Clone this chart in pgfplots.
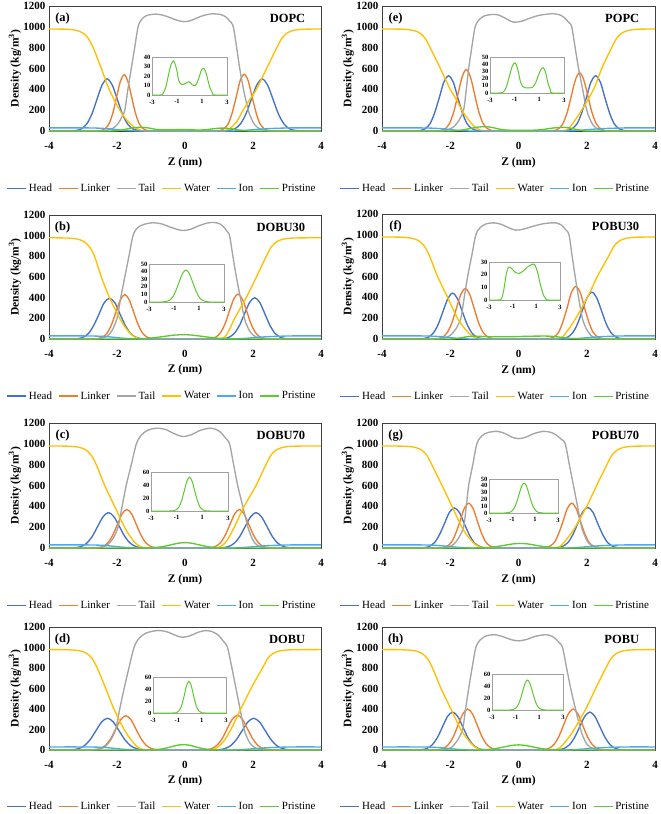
\documentclass[border=0pt]{standalone}
\usepackage{pgfplots}
\pgfplotsset{compat=1.18}
\usepackage{pgfplotstable}
\usepackage{fontspec}
\setmainfont{Liberation Serif}
\definecolor{chead}{HTML}{4472C4}
\definecolor{clink}{HTML}{ED7D31}
\definecolor{ctail}{HTML}{A5A5A5}
\definecolor{cwater}{HTML}{FFC000}
\definecolor{cion}{HTML}{4FA8EE}
\definecolor{cprist}{HTML}{5CCB2E}
\definecolor{cframe}{HTML}{404040}
\definecolor{cinframe}{HTML}{A0A0A0}

\pgfplotstableread{
z v
-4 30
-3 30
-2.6 28
-2.3 23
-2.05 15
-1.8 7
-1.5 2
-1.2 0
1.2 0
1.5 2
1.8 7
2.1 15
2.4 22
2.8 27
3.2 30
4 30
}\iontab

\pgfplotstableread{
z v
-4 0
-2.4 0
-2.15 1
-1.9 8
-1.7 20
-1.5 31
-1.28 36
-1.05 28
-0.85 15
-0.62 11
-0.35 12
-0.05 14
0.2 11
0.47 10
0.7 16
0.95 26
1.15 28
1.35 22
1.6 9
1.85 2
2.05 0
4 0
}\prA

\pgfplotstableread{
z v
-4 0
-2.3 0
-1.95 1
-1.7 7
-1.45 22
-1.2 37
-0.97 42
-0.75 33
-0.55 17
-0.35 9
-0.1 7
0.2 7
0.45 8
0.7 14
0.95 26
1.15 33
1.32 35
1.5 29
1.7 14
1.9 4
2.1 0
4 0
}\prE

\pgfplotstableread{
z v
-4 0
-2.0 0
-1.8 0.3
-1.55 1
-1.3 3
-1.05 8
-0.8 17
-0.55 28
-0.3 38
-0.05 42
0.2 38
0.45 28
0.7 17
0.95 8
1.2 3
1.45 1
1.7 0.3
1.9 0
4 0
}\prB

\pgfplotstableread{
z v
-4 0
-2.3 0
-1.95 1
-1.75 8
-1.55 20
-1.35 26
-1.1 25
-0.8 22
-0.45 21
-0.1 23
0.25 26
0.6 28
0.85 28
1.1 22
1.35 12
1.6 4
1.85 0.5
2.1 0
4 0
}\prF

\pgfplotstableread{
z v
-4 0
-1.6 0
-1.2 0.6
-1.0 2.3
-0.8 7
-0.6 17
-0.4 31.5
-0.2 46
0 52
0.2 46
0.4 31.5
0.6 17
0.8 7
1.0 2.3
1.2 0.6
1.6 0
4 0
}\prC

\pgfplotstableread{
z v
-4 0
-1.7 0
-1.45 0.4
-1.15 1.2
-0.95 3.7
-0.75 9.1
-0.55 18
-0.35 29.6
-0.15 40
0.05 44
0.25 40
0.45 29.6
0.65 18
0.85 9.1
1.05 3.7
1.25 1.2
1.55 0.2
1.8 0
4 0
}\prG

\pgfplotstableread{
z v
-4 0
-1.4 0
-1.05 0.9
-0.85 3.9
-0.65 12
-0.45 27.6
-0.25 45
-0.05 53
0.15 45
0.35 27.6
0.55 12
0.75 3.9
0.95 0.9
1.3 0
4 0
}\prD

\pgfplotstableread{
z v
-4 0
-1.7 0
-1.5 0.1
-1.2 0.8
-1.0 2.9
-0.8 8.1
-0.6 18
-0.4 31.8
-0.2 44.6
0 50
0.2 44.6
0.4 31.8
0.6 18
0.8 8.1
1.0 2.9
1.2 0.8
1.5 0.1
1.7 0
4 0
}\prH

\pgfplotsset{
  pH/.style={forget plot, smooth, line width=1.35pt, draw=chead},
  pL/.style={forget plot, smooth, line width=1.35pt, draw=clink},
  pT/.style={forget plot, smooth, line width=1.35pt, draw=ctail},
  pW/.style={forget plot, smooth, line width=1.35pt, draw=cwater},
  pI/.style={forget plot, smooth, line width=1.35pt, draw=cion},
  pP/.style={forget plot, smooth, line width=1.35pt, draw=cprist},
  mainax/.style={
    scale only axis, anchor=south west,
    xmin=-4, xmax=4, ymin=0, ymax=1200,
    xtick={-4,-2,0,2,4}, ytick={0,200,400,600,800,1000,1200},
    major tick length=0pt,
    axis line style={draw=cframe, line width=0.8pt},
    tick label style={font=\bfseries\fontsize{11}{11}\selectfont},
    /pgf/number format/assume math mode=true,
    /pgf/number format/1000 sep={},
    xticklabel style={yshift=-8pt},
    xlabel={Z (nm)}, ylabel={Density (kg/m\textsuperscript{3})},
    label style={font=\bfseries\fontsize{11.5}{12}\selectfont},
    xlabel style={at={(axis description cs:0.5,-0.25)}, anchor=center},
    ylabel style={at={(axis description cs:-0.125,0.5)}, anchor=center},
    legend style={at={(0.415,-0.46)}, anchor=center, draw=white, fill=white,
      legend columns=6, font=\fontsize{11}{11}\selectfont,
      /tikz/every even column/.append style={column sep=4pt}},
  },
  insetax/.style={
    scale only axis, anchor=south west,
    xmin=-3, xmax=3, ymin=0, xtick={-3,-1,1,3},
    major tick length=0pt,
    axis line style={draw=cinframe, line width=0.6pt},
    axis background/.style={fill=white},
    tick label style={font=\bfseries\fontsize{6.5}{6.5}\selectfont, inner sep=1.5pt},
    /pgf/number format/assume math mode=true,
    xticklabel style={yshift=-3pt},
  },
}
\newcommand{\plab}[2]{%
  \node[font=\bfseries\fontsize{12.5}{13}\selectfont] at (rel axis cs:0.05,0.9) {#1};
  \node[font=\bfseries\fontsize{12.5}{13}\selectfont, anchor=east] at (rel axis cs:0.955,0.9) {#2};}
\newcommand{\lgd}{%
  \addlegendimage{legend image code/.code={\draw[line width=1.6pt, draw=chead] (0pt,0pt) -- (19pt,0pt);}}\addlegendentry{Head}
  \addlegendimage{legend image code/.code={\draw[line width=1.6pt, draw=clink] (0pt,0pt) -- (19pt,0pt);}}\addlegendentry{Linker}
  \addlegendimage{legend image code/.code={\draw[line width=1.6pt, draw=ctail] (0pt,0pt) -- (19pt,0pt);}}\addlegendentry{Tail}
  \addlegendimage{legend image code/.code={\draw[line width=1.6pt, draw=cwater] (0pt,0pt) -- (19pt,0pt);}}\addlegendentry{Water}
  \addlegendimage{legend image code/.code={\draw[line width=1.6pt, draw=cion] (0pt,0pt) -- (19pt,0pt);}}\addlegendentry{Ion}
  \addlegendimage{legend image code/.code={\draw[line width=1.6pt, draw=cprist] (0pt,0pt) -- (19pt,0pt);}}\addlegendentry{Pristine}}

\begin{document}
\begin{tikzpicture}
\useasboundingbox (0pt,0pt) rectangle (661pt,-814pt);

% ---------- (a) DOPC ----------
\begin{axis}[mainax, at={(49pt,-131pt)}, width=272pt, height=125pt]
\addplot[pH] coordinates {(-4,0)(-3.5,0)(-3.19,6)(-3.04,22)(-2.89,68)(-2.74,162)(-2.59,303)(-2.44,441)(-2.29,500)(-2.14,441)(-1.99,303)(-1.84,162)(-1.69,68)(-1.54,22)(-1.39,6)(-1.1,0)(0,0)(1.0,0)(1.31,6)(1.47,22)(1.63,68)(1.79,162)(1.95,303)(2.11,441)(2.27,500)(2.43,441)(2.59,303)(2.75,162)(2.91,68)(3.07,22)(3.23,6)(3.55,0)(4,0)};
\addplot[pL] coordinates {(-4,0)(-2.75,0)(-2.45,6)(-2.34,24)(-2.23,73)(-2.12,175)(-2.01,328)(-1.90,477)(-1.79,540)(-1.68,477)(-1.57,328)(-1.46,175)(-1.35,73)(-1.24,24)(-1.13,6)(-0.85,0)(0,0)(0.75,0)(1.05,6)(1.16,24)(1.28,74)(1.39,177)(1.51,331)(1.62,481)(1.74,545)(1.86,481)(1.97,331)(2.09,177)(2.20,74)(2.32,24)(2.43,6)(2.75,0)(4,0)};
\addplot[pT] coordinates {(-4,0)(-2.8,0)(-2.5,3)(-2.3,8)(-2.1,30)(-1.95,80)(-1.85,140)(-1.77,200)(-1.68,400)(-1.58,600)(-1.48,800)(-1.38,1000)(-1.28,1070)(-1.15,1105)(-1.0,1118)(-0.85,1122)(-0.65,1112)(-0.45,1090)(-0.25,1065)(-0.05,1050)(0.15,1058)(0.35,1085)(0.55,1110)(0.8,1125)(1.05,1118)(1.2,1095)(1.32,1055)(1.42,1000)(1.52,800)(1.61,600)(1.72,400)(1.86,200)(1.95,120)(2.05,60)(2.2,20)(2.4,5)(2.6,0)(4,0)};
\addplot[pW] coordinates {(-4,980)(-3.8,979)(-3.5,977)(-3.3,972)(-3.15,962)(-3.0,940)(-2.85,892)(-2.7,800)(-2.46,600)(-2.23,400)(-1.92,200)(-1.7,100)(-1.5,40)(-1.35,12)(-1.2,2)(-1.0,0)(1.0,0)(1.15,3)(1.3,20)(1.5,80)(1.71,200)(1.9,300)(2.1,400)(2.4,600)(2.7,800)(2.85,892)(3.0,940)(3.15,962)(3.3,972)(3.5,977)(3.8,979)(4,980)};
\addplot[pI] table[x=z,y=v] {\iontab};
\addplot[pP] table[x=z,y=v] {\prA};
\lgd
\plab{(a)}{DOPC}
\end{axis}
\begin{axis}[insetax, at={(152pt,-95pt)}, width=75pt, height=38pt, ymax=40, ytick={0,10,20,30,40}]
\addplot[pP, line width=1pt] table[x=z,y=v] {\prA};
\end{axis}

% ---------- (e) POPC ----------
\begin{axis}[mainax, at={(382pt,-131pt)}, width=273pt, height=125pt]
\addplot[pH] coordinates {(-4,0)(-3.15,0)(-2.86,6)(-2.73,23)(-2.59,72)(-2.46,172)(-2.32,321)(-2.19,468)(-2.05,530)(-1.91,468)(-1.78,321)(-1.64,172)(-1.51,72)(-1.37,23)(-1.24,6)(-0.95,0)(0,0)(1.15,0)(1.45,6)(1.58,23)(1.72,72)(1.85,172)(1.99,321)(2.12,468)(2.26,530)(2.40,468)(2.53,321)(2.67,172)(2.80,72)(2.94,23)(3.07,6)(3.35,0)(4,0)};
\addplot[pL] coordinates {(-4,0)(-2.55,0)(-2.25,7)(-2.13,26)(-2.01,80)(-1.89,192)(-1.77,358)(-1.65,521)(-1.53,590)(-1.41,521)(-1.29,358)(-1.17,192)(-1.05,80)(-0.93,26)(-0.81,7)(-0.5,0)(0.75,0)(1.07,6)(1.19,25)(1.31,76)(1.43,182)(1.55,340)(1.67,494)(1.79,560)(1.91,494)(2.03,340)(2.15,182)(2.27,76)(2.39,25)(2.51,6)(2.8,0)(4,0)};
\addplot[pT] coordinates {(-4,0)(-2.4,0)(-2.1,10)(-1.9,40)(-1.75,100)(-1.61,200)(-1.53,400)(-1.46,600)(-1.37,800)(-1.27,1000)(-1.15,1070)(-1.0,1105)(-0.8,1118)(-0.6,1115)(-0.4,1085)(-0.15,1045)(0.1,1055)(0.35,1085)(0.6,1110)(0.85,1122)(1.05,1125)(1.25,1110)(1.4,1070)(1.48,1040)(1.56,1000)(1.66,800)(1.76,600)(1.88,400)(2.0,200)(2.1,110)(2.2,50)(2.35,15)(2.55,2)(2.7,0)(4,0)};
\addplot[pW] coordinates {(-4,980)(-3.7,979)(-3.39,977)(-3.19,972)(-3.04,962)(-2.89,940)(-2.74,892)(-2.59,800)(-2.29,600)(-2.0,400)(-1.8,290)(-1.66,200)(-1.45,100)(-1.3,45)(-1.15,12)(-1.0,2)(-0.8,0)(1.1,0)(1.3,3)(1.46,20)(1.65,100)(1.85,200)(2.2,400)(2.44,600)(2.73,800)(2.88,892)(3.03,940)(3.18,962)(3.33,972)(3.53,977)(3.8,979)(4,980)};
\addplot[pI] table[x=z,y=v] {\iontab};
\addplot[pP] table[x=z,y=v] {\prE};
\lgd
\plab{(e)}{POPC}
\end{axis}
\begin{axis}[insetax, at={(490pt,-93pt)}, width=74pt, height=36pt, ymax=50, ytick={0,10,20,30,40,50}]
\addplot[pP, line width=1pt] table[x=z,y=v] {\prE};
\end{axis}

% ---------- (b) DOBU30 ----------
\begin{axis}[mainax, at={(49pt,-339pt)}, width=272pt, height=124pt]
\addplot[pH] coordinates {(-4,0)(-3.45,0)(-3.15,4)(-3.00,17)(-2.84,53)(-2.69,128)(-2.53,240)(-2.38,349)(-2.22,395)(-2.06,349)(-1.91,240)(-1.75,128)(-1.60,53)(-1.44,17)(-1.29,4)(-1.0,0)(0,0)(0.85,0)(1.15,4)(1.30,18)(1.45,54)(1.60,130)(1.75,243)(1.90,353)(2.05,400)(2.20,353)(2.35,243)(2.50,130)(2.65,54)(2.80,18)(2.95,4)(3.25,0)(4,0)};
\addplot[pL] coordinates {(-4,0)(-2.85,0)(-2.55,5)(-2.42,19)(-2.29,58)(-2.16,140)(-2.03,261)(-1.90,379)(-1.77,430)(-1.64,379)(-1.51,261)(-1.38,140)(-1.25,58)(-1.12,19)(-0.99,5)(-0.7,0)(0.5,0)(0.78,5)(0.91,19)(1.04,59)(1.17,141)(1.30,264)(1.43,384)(1.56,435)(1.69,384)(1.82,264)(1.95,141)(2.08,59)(2.21,19)(2.34,5)(2.65,0)(4,0)};
\addplot[pT] coordinates {(-4,0)(-2.8,0)(-2.5,5)(-2.3,25)(-2.15,80)(-2.0,200)(-1.89,400)(-1.77,600)(-1.65,800)(-1.53,1000)(-1.4,1075)(-1.2,1110)(-0.94,1125)(-0.7,1115)(-0.45,1085)(-0.2,1058)(-0.05,1050)(0.15,1060)(0.4,1095)(0.65,1122)(0.85,1128)(1.02,1115)(1.15,1080)(1.23,1045)(1.31,1000)(1.41,800)(1.51,600)(1.63,400)(1.75,200)(1.85,110)(1.95,55)(2.1,18)(2.3,3)(2.5,0)(4,0)};
\addplot[pW] coordinates {(-4,980)(-3.75,979)(-3.46,977)(-3.26,972)(-3.11,962)(-2.96,940)(-2.81,892)(-2.66,800)(-2.46,600)(-2.22,400)(-1.92,200)(-1.75,110)(-1.6,50)(-1.45,15)(-1.3,2)(-1.1,0)(0.9,0)(1.05,3)(1.2,30)(1.32,100)(1.46,200)(1.8,400)(2.1,600)(2.39,800)(2.54,892)(2.69,940)(2.84,962)(2.99,972)(3.19,977)(3.5,979)(4,980)};
\addplot[pI] table[x=z,y=v] {\iontab};
\addplot[pP] table[x=z,y=v] {\prB};
\lgd
\plab{(b)}{DOBU30}
\end{axis}
\begin{axis}[insetax, at={(149pt,-302pt)}, width=75pt, height=38pt, ymax=50, ytick={0,10,20,30,40,50}]
\addplot[pP, line width=1pt] table[x=z,y=v] {\prB};
\end{axis}

% ---------- (f) POBU30 ----------
\begin{axis}[mainax, at={(382pt,-339pt)}, width=273pt, height=125pt]
\addplot[pH] coordinates {(-4,0)(-3.05,0)(-2.77,5)(-2.63,19)(-2.49,60)(-2.35,143)(-2.21,267)(-2.07,388)(-1.93,440)(-1.79,388)(-1.65,267)(-1.51,143)(-1.37,60)(-1.23,19)(-1.09,5)(-0.8,0)(0,0)(1.0,0)(1.31,5)(1.45,20)(1.59,61)(1.73,146)(1.87,273)(2.01,397)(2.15,450)(2.29,397)(2.43,273)(2.57,146)(2.71,61)(2.85,20)(2.99,5)(3.3,0)(4,0)};
\addplot[pL] coordinates {(-4,0)(-2.65,0)(-2.34,5)(-2.21,21)(-2.08,66)(-1.95,157)(-1.82,294)(-1.69,428)(-1.56,485)(-1.43,428)(-1.30,294)(-1.17,157)(-1.04,66)(-0.91,21)(-0.78,5)(-0.5,0)(0.65,0)(0.93,6)(1.05,22)(1.18,68)(1.30,164)(1.43,306)(1.55,446)(1.68,505)(1.81,446)(1.93,306)(2.06,164)(2.18,68)(2.31,22)(2.43,6)(2.7,0)(4,0)};
\addplot[pT] coordinates {(-4,0)(-2.5,0)(-2.2,8)(-2.0,35)(-1.83,100)(-1.69,200)(-1.59,400)(-1.49,600)(-1.37,800)(-1.25,1000)(-1.12,1070)(-0.95,1105)(-0.71,1115)(-0.5,1100)(-0.3,1070)(-0.08,1045)(0.15,1055)(0.4,1080)(0.7,1105)(0.9,1113)(1.09,1115)(1.25,1095)(1.38,1050)(1.48,1000)(1.57,800)(1.66,600)(1.76,400)(1.87,200)(1.97,110)(2.08,50)(2.21,15)(2.4,2)(2.6,0)(4,0)};
\addplot[pW] coordinates {(-4,980)(-3.7,979)(-3.41,977)(-3.21,972)(-3.06,962)(-2.91,940)(-2.76,892)(-2.61,800)(-2.37,600)(-2.08,400)(-1.79,200)(-1.6,110)(-1.45,55)(-1.3,18)(-1.15,3)(-1.0,0)(1.0,0)(1.15,3)(1.29,20)(1.48,100)(1.68,200)(2.02,400)(2.31,600)(2.65,800)(2.8,892)(2.95,940)(3.1,962)(3.25,972)(3.45,977)(3.75,979)(4,980)};
\addplot[pI] table[x=z,y=v] {\iontab};
\addplot[pP] table[x=z,y=v] {\prF};
\lgd
\plab{(f)}{POBU30}
\end{axis}
\begin{axis}[insetax, at={(489pt,-300pt)}, width=71pt, height=38pt, ymax=30, ytick={0,10,20,30}]
\addplot[pP, line width=1pt] table[x=z,y=v] {\prF};
\end{axis}

% ---------- (c) DOBU70 ----------
\begin{axis}[mainax, at={(49pt,-548pt)}, width=272pt, height=125pt]
\addplot[pH] coordinates {(-4,0)(-3.5,0)(-3.21,4)(-3.05,15)(-2.89,46)(-2.73,110)(-2.57,206)(-2.41,300)(-2.25,340)(-2.09,300)(-1.93,206)(-1.77,110)(-1.61,46)(-1.45,15)(-1.29,4)(-1.0,0)(0,0)(0.85,0)(1.13,4)(1.29,15)(1.45,46)(1.61,110)(1.77,206)(1.93,300)(2.09,340)(2.25,300)(2.41,206)(2.57,110)(2.73,46)(2.89,15)(3.05,4)(3.35,0)(4,0)};
\addplot[pL] coordinates {(-4,0)(-2.85,0)(-2.55,4)(-2.41,16)(-2.27,50)(-2.13,120)(-1.99,224)(-1.85,327)(-1.71,370)(-1.57,327)(-1.43,224)(-1.29,120)(-1.15,50)(-1.01,16)(-0.87,4)(-0.6,0)(0.5,0)(0.76,4)(0.90,16)(1.04,50)(1.18,120)(1.32,224)(1.46,327)(1.60,370)(1.74,327)(1.88,224)(2.02,120)(2.16,50)(2.30,16)(2.44,4)(2.7,0)(4,0)};
\addplot[pT] coordinates {(-4,0)(-2.8,0)(-2.5,5)(-2.3,25)(-2.12,90)(-1.97,200)(-1.85,400)(-1.73,600)(-1.58,800)(-1.43,1000)(-1.28,1085)(-1.1,1130)(-0.9,1148)(-0.75,1150)(-0.55,1135)(-0.3,1095)(-0.06,1070)(0.2,1090)(0.45,1130)(0.72,1150)(0.9,1140)(1.05,1110)(1.18,1060)(1.31,1000)(1.43,800)(1.55,600)(1.7,400)(1.85,200)(1.95,110)(2.05,50)(2.19,15)(2.4,2)(2.6,0)(4,0)};
\addplot[pW] coordinates {(-4,980)(-3.7,979)(-3.41,977)(-3.21,972)(-3.06,962)(-2.91,940)(-2.76,892)(-2.61,800)(-2.36,600)(-2.07,400)(-1.78,200)(-1.6,105)(-1.45,45)(-1.3,12)(-1.15,2)(-1.0,0)(0.8,0)(0.95,3)(1.1,25)(1.25,80)(1.45,200)(1.74,400)(2.09,600)(2.38,800)(2.53,892)(2.68,940)(2.83,962)(2.98,972)(3.18,977)(3.5,979)(4,980)};
\addplot[pI] table[x=z,y=v] {\iontab};
\addplot[pP] table[x=z,y=v] {\prC};
\lgd
\plab{(c)}{DOBU70}
\end{axis}
\begin{axis}[insetax, at={(151pt,-511pt)}, width=77pt, height=39pt, ymax=60, ytick={0,20,40,60}]
\addplot[pP, line width=1pt] table[x=z,y=v] {\prC};
\end{axis}

% ---------- (g) POBU70 ----------
\begin{axis}[mainax, at={(382pt,-548pt)}, width=273pt, height=125pt]
\addplot[pH] coordinates {(-4,0)(-3.05,0)(-2.75,4)(-2.61,17)(-2.46,52)(-2.32,125)(-2.17,234)(-2.03,340)(-1.88,385)(-1.73,340)(-1.59,234)(-1.44,125)(-1.30,52)(-1.15,17)(-1.01,4)(-0.7,0)(0,0)(0.85,0)(1.16,4)(1.30,17)(1.45,53)(1.59,127)(1.74,237)(1.88,344)(2.03,390)(2.18,344)(2.32,237)(2.47,127)(2.61,53)(2.76,17)(2.90,4)(3.2,0)(4,0)};
\addplot[pL] coordinates {(-4,0)(-2.5,0)(-2.21,5)(-2.09,19)(-1.96,58)(-1.84,140)(-1.71,261)(-1.59,379)(-1.46,430)(-1.33,379)(-1.21,261)(-1.08,140)(-0.96,58)(-0.83,19)(-0.71,5)(-0.45,0)(0.55,0)(0.81,5)(0.93,19)(1.06,58)(1.18,140)(1.31,261)(1.43,379)(1.56,430)(1.69,379)(1.81,261)(1.94,140)(2.06,58)(2.19,19)(2.31,5)(2.6,0)(4,0)};
\addplot[pT] coordinates {(-4,0)(-2.4,0)(-2.1,8)(-1.9,35)(-1.75,100)(-1.61,200)(-1.53,400)(-1.46,600)(-1.34,800)(-1.22,1000)(-1.08,1075)(-0.9,1108)(-0.63,1120)(-0.4,1100)(-0.2,1065)(0,1050)(0.2,1062)(0.45,1098)(0.73,1120)(0.95,1110)(1.1,1085)(1.25,1045)(1.37,1000)(1.49,800)(1.61,600)(1.73,400)(1.85,200)(1.95,110)(2.05,50)(2.2,15)(2.4,2)(2.6,0)(4,0)};
\addplot[pW] coordinates {(-4,980)(-3.65,979)(-3.34,977)(-3.14,972)(-2.99,962)(-2.84,940)(-2.69,892)(-2.54,800)(-2.24,600)(-1.95,400)(-1.66,200)(-1.48,110)(-1.32,50)(-1.17,15)(-1.02,2)(-0.85,0)(1.0,0)(1.12,3)(1.25,25)(1.45,100)(1.66,200)(2.0,400)(2.29,600)(2.59,800)(2.74,892)(2.89,940)(3.04,962)(3.19,972)(3.39,977)(3.7,979)(4,980)};
\addplot[pI] table[x=z,y=v] {\iontab};
\addplot[pP] table[x=z,y=v] {\prG};
\lgd
\plab{(g)}{POBU70}
\end{axis}
\begin{axis}[insetax, at={(489pt,-513pt)}, width=69pt, height=34pt, ymax=50, ytick={0,10,20,30,40,50}]
\addplot[pP, line width=1pt] table[x=z,y=v] {\prG};
\end{axis}

% ---------- (d) DOBU ----------
\begin{axis}[mainax, at={(49pt,-750pt)}, width=272pt, height=123pt]
\addplot[pH] coordinates {(-4,0)(-3.6,0)(-3.30,3)(-3.13,14)(-2.96,42)(-2.79,101)(-2.62,188)(-2.45,274)(-2.28,310)(-2.11,274)(-1.94,188)(-1.77,101)(-1.60,42)(-1.43,14)(-1.26,3)(-0.95,0)(0,0)(0.7,0)(1.00,3)(1.17,14)(1.34,42)(1.51,101)(1.68,188)(1.85,274)(2.02,310)(2.19,274)(2.36,188)(2.53,101)(2.70,42)(2.87,14)(3.04,3)(3.35,0)(4,0)};
\addplot[pL] coordinates {(-4,0)(-2.95,0)(-2.64,4)(-2.49,15)(-2.34,45)(-2.19,109)(-2.04,203)(-1.89,296)(-1.74,335)(-1.59,296)(-1.44,203)(-1.29,109)(-1.14,45)(-0.99,15)(-0.84,4)(-0.55,0)(0.35,0)(0.64,4)(0.79,15)(0.94,46)(1.09,110)(1.24,206)(1.39,300)(1.54,340)(1.69,300)(1.84,206)(1.99,110)(2.14,46)(2.29,15)(2.44,4)(2.75,0)(4,0)};
\addplot[pT] coordinates {(-4,0)(-2.9,0)(-2.6,5)(-2.38,25)(-2.2,90)(-2.04,200)(-1.92,400)(-1.79,600)(-1.65,800)(-1.5,1000)(-1.35,1090)(-1.15,1140)(-0.9,1162)(-0.71,1165)(-0.5,1150)(-0.25,1115)(-0.07,1100)(0.15,1115)(0.4,1150)(0.61,1165)(0.8,1155)(0.98,1120)(1.12,1065)(1.25,1000)(1.38,800)(1.5,600)(1.62,400)(1.74,200)(1.84,110)(1.95,50)(2.1,15)(2.3,2)(2.5,0)(4,0)};
\addplot[pW] coordinates {(-4,980)(-3.7,979)(-3.38,977)(-3.18,972)(-3.03,962)(-2.88,940)(-2.73,892)(-2.58,800)(-2.33,600)(-2.09,400)(-1.79,200)(-1.6,105)(-1.45,45)(-1.3,12)(-1.15,2)(-1.0,0)(0.65,0)(0.8,3)(0.95,25)(1.15,90)(1.35,200)(1.64,400)(1.94,600)(2.28,800)(2.43,892)(2.58,940)(2.73,962)(2.88,972)(3.08,977)(3.4,979)(4,980)};
\addplot[pI] table[x=z,y=v] {\iontab};
\addplot[pP] table[x=z,y=v] {\prD};
\lgd
\plab{(d)}{DOBU}
\end{axis}
\begin{axis}[insetax, at={(153pt,-713pt)}, width=73pt, height=36pt, ymax=60, ytick={0,20,40,60}]
\addplot[pP, line width=1pt] table[x=z,y=v] {\prD};
\end{axis}

% ---------- (h) POBU ----------
\begin{axis}[mainax, at={(382pt,-750pt)}, width=273pt, height=123pt]
\addplot[pH] coordinates {(-4,0)(-3.15,0)(-2.83,4)(-2.68,16)(-2.53,50)(-2.38,120)(-2.23,224)(-2.08,327)(-1.93,370)(-1.78,327)(-1.63,224)(-1.48,120)(-1.33,50)(-1.18,16)(-1.03,4)(-0.7,0)(0,0)(0.9,0)(1.19,4)(1.34,16)(1.49,50)(1.64,120)(1.79,224)(1.94,327)(2.09,370)(2.24,327)(2.39,224)(2.54,120)(2.69,50)(2.84,16)(2.99,4)(3.3,0)(4,0)};
\addplot[pL] coordinates {(-4,0)(-2.65,0)(-2.33,4)(-2.19,18)(-2.05,54)(-1.91,130)(-1.77,243)(-1.63,353)(-1.49,400)(-1.35,353)(-1.21,243)(-1.07,130)(-0.93,54)(-0.79,18)(-0.65,4)(-0.35,0)(0.45,0)(0.76,4)(0.90,18)(1.04,54)(1.18,130)(1.32,243)(1.46,353)(1.60,400)(1.74,353)(1.88,243)(2.02,130)(2.16,54)(2.30,18)(2.44,4)(2.75,0)(4,0)};
\addplot[pT] coordinates {(-4,0)(-2.4,0)(-2.1,8)(-1.93,35)(-1.78,100)(-1.64,200)(-1.55,400)(-1.46,600)(-1.36,800)(-1.25,1000)(-1.12,1075)(-0.95,1112)(-0.71,1125)(-0.45,1105)(-0.2,1075)(0.02,1065)(0.25,1080)(0.5,1110)(0.8,1125)(0.98,1110)(1.1,1080)(1.2,1045)(1.29,1000)(1.41,800)(1.53,600)(1.67,400)(1.82,200)(1.92,110)(2.02,50)(2.17,15)(2.35,2)(2.55,0)(4,0)};
\addplot[pW] coordinates {(-4,980)(-3.65,979)(-3.32,977)(-3.12,972)(-2.97,962)(-2.82,940)(-2.67,892)(-2.52,800)(-2.27,600)(-1.98,400)(-1.69,200)(-1.5,110)(-1.35,50)(-1.2,15)(-1.05,2)(-0.9,0)(0.95,0)(1.08,3)(1.22,25)(1.42,100)(1.63,200)(1.97,400)(2.26,600)(2.56,800)(2.71,892)(2.86,940)(3.01,962)(3.16,972)(3.36,977)(3.7,979)(4,980)};
\addplot[pI] table[x=z,y=v] {\iontab};
\addplot[pP] table[x=z,y=v] {\prH};
\lgd
\plab{(h)}{POBU}
\end{axis}
\begin{axis}[insetax, at={(492pt,-710pt)}, width=71pt, height=36pt, ymax=60, ytick={0,20,40,60}]
\addplot[pP, line width=1pt] table[x=z,y=v] {\prH};
\end{axis}

\end{tikzpicture}
\end{document}
